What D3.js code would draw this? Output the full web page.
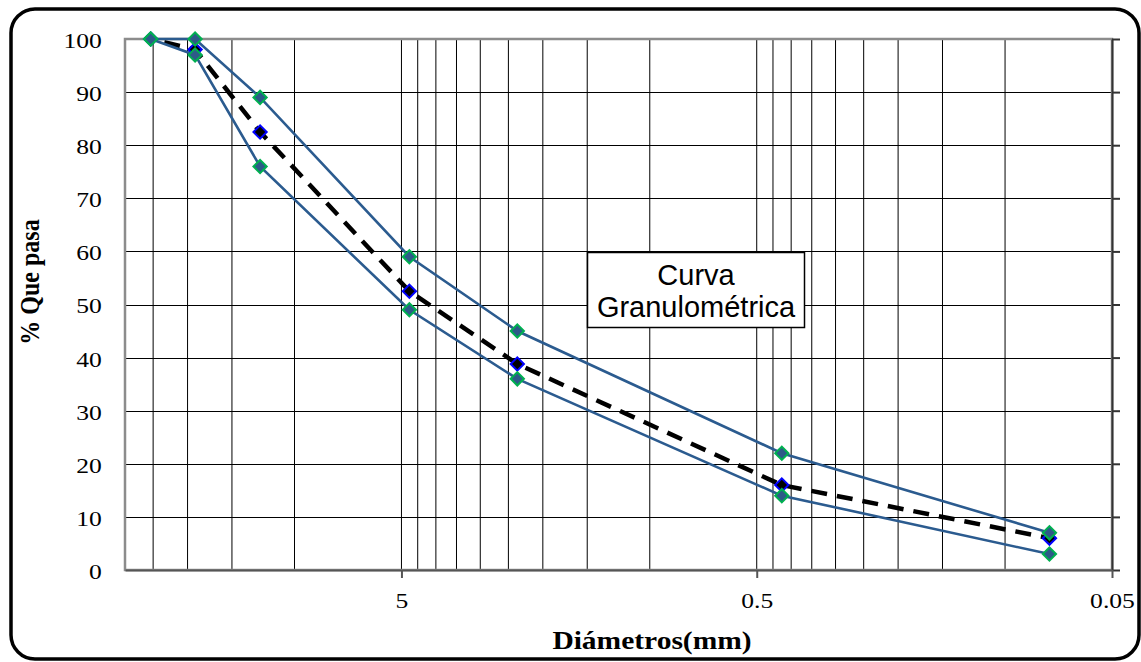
<!DOCTYPE html>
<html>
<head>
<meta charset="utf-8">
<script src="https://cdn.jsdelivr.net/npm/d3@7"></script>
<style>
	body{margin:0;background:#fff;}
	svg{display:block;}
</style>
</head>
<body>
<svg id="chart" width="1141" height="662"></svg>
<script>
// data
var diameters = [25.4, 19.05, 12.5, 4.75, 2.36, 0.425, 0.075];
var upperLimit = [100, 100, 89, 59, 45, 22, 7];
var lowerLimit = [100, 97, 76, 49, 36, 14, 3];
var sample = [100, 98, 82.5, 52.5, 38.8, 16, 6];
var xMajors = [5, 0.5, 0.05];
var xMinorSteps = [1, 2, 3, 4, 5, 6, 7, 8, 9];
var yTicks = [0, 10, 20, 30, 40, 50, 60, 70, 80, 90, 100];

var svg = d3.select("#chart");
var pLeft = 125, pRight = 1112, pTop = 39, pBottom = 570;

var x = d3.scaleLog().domain([30, 0.05]).range([pLeft, pRight]);
var y = d3.scaleLinear().domain([0, 100]).range([pBottom, pTop]);

// outer frame
svg.append("rect")
	.attr("x", 11).attr("y", 9).attr("width", 1128).attr("height", 650)
	.attr("rx", 24).attr("ry", 24)
	.attr("fill", "#fff").attr("stroke", "#000").attr("stroke-width", 3.5);

// grid
var vgrid = [];
xMajors.forEach(function(m){
	xMinorSteps.forEach(function(k){
		var v = m * k;
		if(v < 30 && v > 0.05) vgrid.push(v);
	});
});
var grid = svg.append("g").attr("stroke", "#000").attr("stroke-width", 1);
grid.selectAll(".vg").data(vgrid).enter().append("line")
	.attr("x1", function(d){return x(d)}).attr("x2", function(d){return x(d)})
	.attr("y1", pTop).attr("y2", pBottom);
grid.selectAll(".hg").data(yTicks).enter().append("line")
	.attr("x1", pLeft).attr("x2", pRight)
	.attr("y1", function(d){return Math.round(y(d)) + 0.5})
	.attr("y2", function(d){return Math.round(y(d)) + 0.5});

// plot border
svg.append("rect")
	.attr("x", pLeft).attr("y", pTop).attr("width", pRight - pLeft).attr("height", pBottom - pTop)
	.attr("fill", "none").attr("stroke", "#8c8c8c").attr("stroke-width", 2.5);

// left labels (no ticks)
var yAxis = svg.append("g").attr("transform", "translate(" + pLeft + ",0)")
	.call(d3.axisLeft(y).tickValues(yTicks).tickSize(0).tickPadding(19));
yAxis.select(".domain").remove();
yAxis.selectAll("text")
	.attr("font-family", "'Liberation Serif','Times New Roman',serif")
	.attr("font-size", 21).attr("fill", "#000")
	.attr("dy", "0.4em")
	.attr("transform", "scale(1.22,1)");

// right axis with outside ticks
var rAxis = svg.append("g").attr("transform", "translate(" + pRight + ",0)")
	.call(d3.axisRight(y).tickValues(yTicks).tickSize(8).tickSizeOuter(0).tickFormat(""));
rAxis.selectAll("path, line").attr("stroke", "#333").attr("stroke-width", 2);

// bottom axis
var xAxis = svg.append("g").attr("transform", "translate(0," + pBottom + ")")
	.call(d3.axisBottom(x).tickValues(xMajors).tickSize(8).tickSizeOuter(0)
		.tickFormat(function(d){return String(d)}));
xAxis.selectAll("path, line").attr("stroke", "#555").attr("stroke-width", 2);
xAxis.selectAll("text")
	.attr("font-family", "'Liberation Serif','Times New Roman',serif")
	.attr("font-size", 21).attr("fill", "#000")
	.attr("y", 38).attr("dy", null)
	.attr("transform", "scale(1.22,1)");

// axis titles
svg.append("text")
	.attr("transform", "translate(652,649) scale(1.18,1)")
	.attr("text-anchor", "middle")
	.attr("font-family", "'Liberation Serif','Times New Roman',serif")
	.attr("font-weight", "bold").attr("font-size", 25)
	.text("Diámetros(mm)");
svg.append("text")
	.attr("transform", "translate(39,282) scale(1.1,1) rotate(-90)")
	.attr("text-anchor", "middle")
	.attr("font-family", "'Liberation Serif','Times New Roman',serif")
	.attr("font-weight", "bold").attr("font-size", 24)
	.text("% Que pasa");

// series
function pts(vals){
	return vals.map(function(v, i){return [diameters[i], v]});
}
var line = d3.line().x(function(d){return x(d[0])}).y(function(d){return y(d[1])});
var diamond = d3.symbol().type(d3.symbolSquare).size(88);

svg.append("path").datum(pts(sample))
	.attr("d", line).attr("fill", "none")
	.attr("stroke", "#000").attr("stroke-width", 4.5)
	.attr("stroke-dasharray", "16,10").attr("stroke-dashoffset", -14);
[upperLimit, lowerLimit].forEach(function(s){
	svg.append("path").datum(pts(s))
		.attr("d", line).attr("fill", "none")
		.attr("stroke", "#2b5b8f").attr("stroke-width", 2.6);
});

svg.append("g").selectAll("path").data(pts(sample)).enter().append("path")
	.attr("d", diamond)
	.attr("transform", function(d){return "translate(" + x(d[0]) + "," + y(d[1]) + ") rotate(45)"})
	.attr("fill", "#000").attr("stroke", "#0000ff").attr("stroke-width", 2);
[upperLimit, lowerLimit].forEach(function(s){
	svg.append("g").selectAll("path").data(pts(s)).enter().append("path")
		.attr("d", diamond)
		.attr("transform", function(d){return "translate(" + x(d[0]) + "," + y(d[1]) + ") rotate(45)"})
		.attr("fill", "#2d5a88").attr("stroke", "#00b050").attr("stroke-width", 2);
});

// label box
var box = svg.append("g");
box.append("rect")
	.attr("x", 587.5).attr("y", 252.5).attr("width", 217).attr("height", 75)
	.attr("fill", "#fff").attr("stroke", "#000").attr("stroke-width", 1.5);
box.selectAll("text").data(["Curva", "Granulométrica"]).enter().append("text")
	.attr("x", 696).attr("y", function(d, i){return 285 + i * 32})
	.attr("text-anchor", "middle")
	.attr("font-family", "'Liberation Sans',Arial,sans-serif")
	.attr("font-size", 29).attr("fill", "#000")
	.text(function(d){return d});
</script>
</body>
</html>
